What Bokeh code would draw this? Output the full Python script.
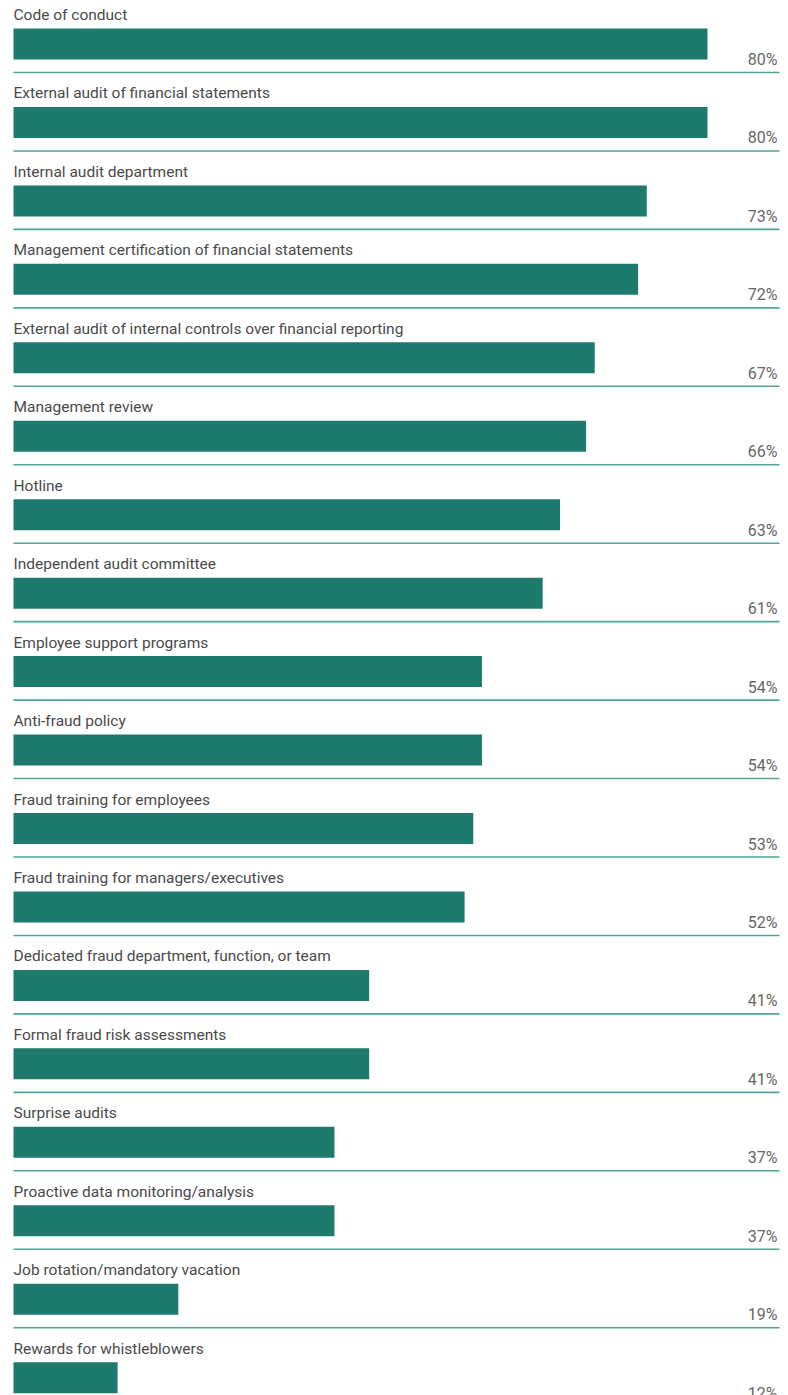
from bokeh.plotting import figure
from bokeh.models import ColumnDataSource, Range1d
from bokeh.core.properties import value
from bokeh.embed import file_html
from bokeh.resources import INLINE

categories = [
    "Code of conduct",
    "External audit of financial statements",
    "Internal audit department",
    "Management certification of financial statements",
    "External audit of internal controls over financial reporting",
    "Management review",
    "Hotline",
    "Independent audit committee",
    "Employee support programs",
    "Anti-fraud policy",
    "Fraud training for employees",
    "Fraud training for managers/executives",
    "Dedicated fraud department, function, or team",
    "Formal fraud risk assessments",
    "Surprise audits",
    "Proactive data monitoring/analysis",
    "Job rotation/mandatory vacation",
    "Rewards for whistleblowers",
]
values = [80, 80, 73, 72, 67, 66, 63, 61, 54, 54, 53, 52, 41, 41, 37, 37, 19, 12]
value_labels = [f"{v}%" for v in values]

W, H = 788, 1395
PX_PER_PCT = 8.675     # pixel width of one percent
X0_PX = 13             # pixel of 0 %
ROW_PX = 78.45         # pixel spacing of rows
FIRST_CENTER_PX = 43.5 # pixel of first bar centre

rows = list(range(len(categories)))
u = 1.0 / ROW_PX  # one pixel in row units

src = ColumnDataSource(dict(
    y=rows,
    v=values,
    cat=categories,
    lab=value_labels,
    label_y=[r - 29 * u for r in rows],
    line_y=[r + 28.5 * u for r in rows],
    pct_y=[r + 15.5 * u for r in rows],
))

p = figure(
    width=W, height=H,
    x_range=Range1d(-X0_PX / PX_PER_PCT, (W - X0_PX) / PX_PER_PCT),
    y_range=Range1d((H - FIRST_CENTER_PX) / ROW_PX, -FIRST_CENTER_PX / ROW_PX),
    output_backend="svg", toolbar_location=None,
    x_axis_location=None, y_axis_location=None,
    min_border=0, outline_line_color=None,
    background_fill_color="white", border_fill_color="white",
)
p.grid.visible = False

line_end = (779 - X0_PX) / PX_PER_PCT
pct_x = (777 - X0_PX) / PX_PER_PCT

p.segment(x0=0, x1=line_end, y0="line_y", y1="line_y", source=src,
          line_color="#4fa593", line_width=1.6)

p.hbar(y="y", left=0, right="v", height=31 * u, source=src,
       fill_color="#1e7a6c", line_color=None)

p.text(x=0, y="label_y", text="cat", source=src,
       text_font=value("Roboto"), text_font_size="15.5px",
       text_color="#4a4a4a", text_baseline="alphabetic", text_align="left")

p.text(x=pct_x, y="pct_y", text="lab", source=src,
       text_font=value("Roboto"), text_font_size="16px",
       text_color="#666666", text_baseline="alphabetic", text_align="right")

open("out.html", "w").write(file_html(p, INLINE))
